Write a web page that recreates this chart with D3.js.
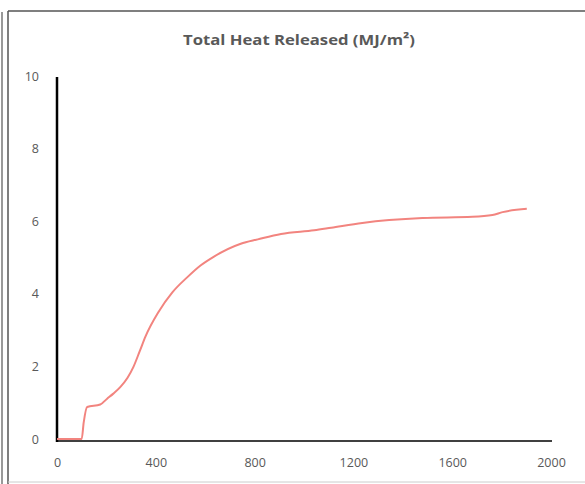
<html>
<head>
  <script src="https://d3js.org/d3.v7.min.js"></script>
  <style>
    body { margin: 0; background: #fff; }
    text { font-family: "Open Sans", "DejaVu Sans", sans-serif; }
  </style>
</head>
<body>
  <svg id="chart"></svg>

  <script>
  // time (s) and total heat released (MJ/m2)
  const timeS = [0, 100, 108, 122, 175, 203, 228, 256, 285, 309, 335, 358, 411, 467, 528, 581, 634, 744, 813, 907, 1041, 1110, 1236, 1345, 1480, 1682, 1763, 1804, 1902];
  const thr   = [0, 0, 0.45, 0.88, 0.95, 1.11, 1.25, 1.43, 1.68, 1.98, 2.42, 2.82, 3.50, 4.04, 4.46, 4.78, 5.02, 5.38, 5.50, 5.65, 5.75, 5.82, 5.95, 6.03, 6.09, 6.12, 6.17, 6.25, 6.34];
  const xTicks = [0, 400, 800, 1200, 1600, 2000];
  const yTicks = [0, 2, 4, 6, 8, 10];
  const title = "Total Heat Released (MJ/m²)";

  const W = 585, H = 484;
  const padL = 57, padR = 551, padT = 76, padB = 439;

  const svg = d3.select("#chart").attr("width", W).attr("height", H);

  // frame round the chart
  svg.append("line").attr("x1", 2).attr("x2", 2).attr("y1", 12).attr("y2", H)
    .attr("stroke", "#777").attr("stroke-width", 1.5);
  svg.append("line").attr("x1", 8).attr("x2", 8).attr("y1", 11).attr("y2", H)
    .attr("stroke", "#555").attr("stroke-width", 1.5);
  svg.append("line").attr("x1", 8).attr("x2", W).attr("y1", 11).attr("y2", 11)
    .attr("stroke", "#555").attr("stroke-width", 1.5);
  svg.append("line").attr("x1", 8).attr("x2", W).attr("y1", 482).attr("y2", 482)
    .attr("stroke", "#ccc").attr("stroke-width", 1);

  const x = d3.scaleLinear().domain([0, 2000]).range([padL, padR]);
  const y = d3.scaleLinear().domain([0, 10]).range([padB, padT]);

  svg.append("text")
    .attr("x", 299).attr("y", 45)
    .attr("text-anchor", "middle")
    .attr("font-size", 15).attr("font-weight", "bold")
    .attr("fill", "#595959")
    .attr("textLength", 232)
    .attr("lengthAdjust", "spacingAndGlyphs")
    .text(title);

  // x axis
  const xAxis = svg.append("g")
    .attr("transform", "translate(0," + (padB + 2) + ")")
    .call(d3.axisBottom(x).tickValues(xTicks).tickSize(0).tickPadding(17).tickFormat(d3.format("d")));
  xAxis.select(".domain").attr("stroke", "#404040").attr("stroke-width", 2)
    .attr("d", "M" + padL + ",0H" + (padR + 1));
  xAxis.selectAll("text").attr("font-size", 12.5).attr("fill", "#595959")
    .attr("font-family", "Open Sans, sans-serif");

  // y axis
  const yAxis = svg.append("g")
    .attr("transform", "translate(" + padL + ",0)")
    .call(d3.axisLeft(y).tickValues(yTicks).tickSize(0).tickPadding(18));
  yAxis.select(".domain").attr("stroke", "#000").attr("stroke-width", 2.5)
    .attr("d", "M0," + (padT + 1) + "V" + (padB + 3));
  yAxis.selectAll("text").attr("font-size", 12.5).attr("fill", "#595959")
    .attr("font-family", "Open Sans, sans-serif");

  const pts = timeS.map((t, i) => [t, thr[i]]);
  const line = d3.line()
    .x(d => x(d[0]))
    .y(d => y(d[1]))
    .curve(d3.curveMonotoneX);

  svg.append("path")
    .datum(pts)
    .attr("fill", "none")
    .attr("stroke", "#f2847f")
    .attr("stroke-width", 2)
    .attr("d", line);
  </script>
</body>
</html>
